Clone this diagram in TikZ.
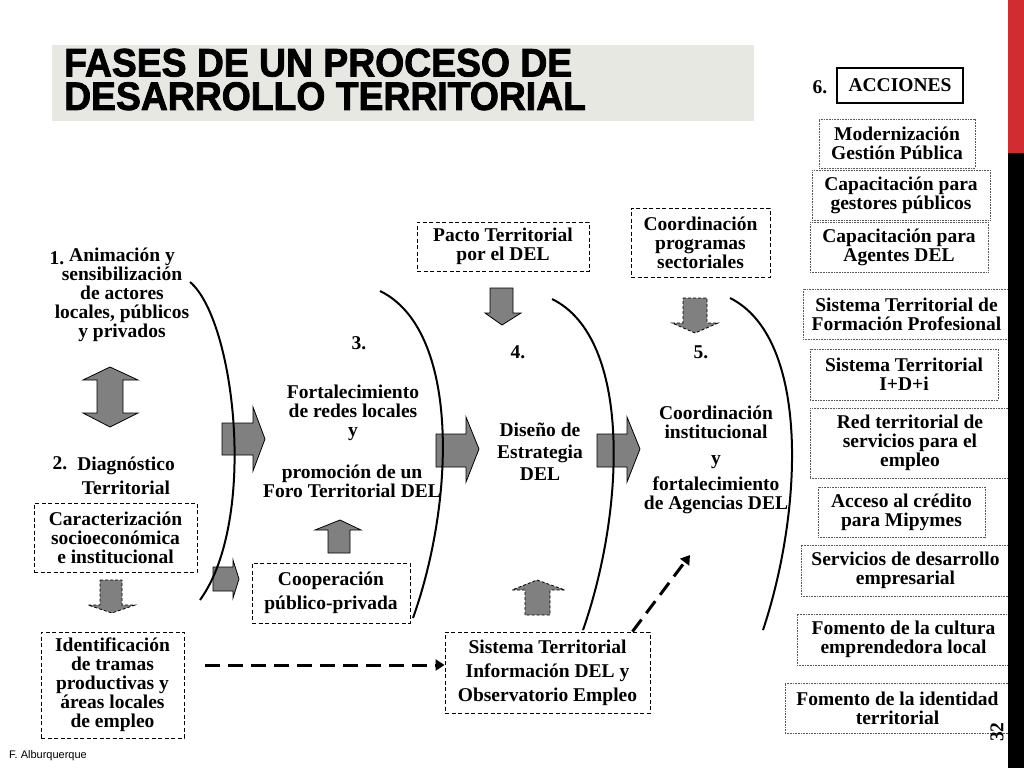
\documentclass[tikz,border=0pt]{standalone}
\usepackage{fontspec}
\setmainfont{Liberation Serif}
\setsansfont{Liberation Sans}
\newfontfamily\titlefont{Liberation Sans}[BoldFeatures={FakeBold=2,FakeStretch=0.94}]
\usepackage{tikz}
\usetikzlibrary{arrows.meta,positioning,calc}
\definecolor{titlegray}{RGB}{232,232,226}
\definecolor{barred}{RGB}{209,44,48}
\definecolor{arrgray}{RGB}{128,128,128}

\begin{document}
\begin{tikzpicture}[x=1pt,y=-1pt,
  txt/.style={inner sep=0pt,align=center,font=\fontsize{19.5}{19}\selectfont\bfseries},
  wide/.style={font=\fontsize{19.5}{24}\selectfont\bfseries},
  dashbox/.style={txt,draw,line width=0.9pt,dash pattern=on 4pt off 2.5pt},
  dotbox/.style={txt,draw=black!65,line width=0.9pt,dash pattern=on 0.8pt off 0.8pt},
  blockarr/.style={fill=arrgray,draw=black,line width=0.8pt,line join=miter},
  dasharr/.style={blockarr,dash pattern=on 3pt off 2pt},
  phase/.style={line width=2pt},
  conn/.style={line width=3pt,dash pattern=on 15pt off 8pt,-{Triangle[length=9pt,width=11pt]}}]
  \useasboundingbox (0,0) rectangle (1024,768);
  \fill[titlegray] (52,45) rectangle (754,121);
  \node[anchor=north west,inner sep=0pt,font=\titlefont\bfseries\fontsize{39.7}{33}\selectfont] (title1) at (64,48.5) {FASES DE UN PROCESO DE};
  \node[anchor=north west,inner sep=0pt,font=\titlefont\bfseries\fontsize{39.7}{33}\selectfont] (title2) at (64,82) {DESARROLLO TERRITORIAL};

  % block arrows
  \draw[blockarr] (110,367) -- (138,380) -- (123,380) -- (123,413) -- (138,413) -- (110,427) -- (83,413) -- (97,413) -- (97,380) -- (83,380) -- cycle;
  \draw[dasharr] (100,580) -- (122,580) -- (122,605) -- (135,605) -- (112,613) -- (88,605) -- (100,605) -- cycle;
  \draw[blockarr] (222,423) -- (253,423) -- (253,407) -- (265,439) -- (253,471) -- (253,455) -- (222,455) -- cycle;
  \draw[blockarr] (436,434) -- (466,434) -- (466,417) -- (479,449) -- (466,482) -- (466,467) -- (436,467) -- cycle;
  \draw[blockarr] (597,434) -- (627,434) -- (627,417) -- (640,449) -- (627,482) -- (627,467) -- (597,467) -- cycle;
  \draw[blockarr] (213,567) -- (233,567) -- (233,560) -- (239,579) -- (233,598) -- (233,591) -- (213,591) -- cycle;
  \draw[blockarr] (328,553) -- (328,530) -- (315,530) -- (340,520) -- (361,530) -- (350,530) -- (350,553) -- cycle;
  \draw[blockarr] (490,288) -- (513,288) -- (513,313) -- (521,313) -- (502,325) -- (485,313) -- (490,313) -- cycle;
  \draw[dasharr] (683,298) -- (707,298) -- (707,323) -- (718,323) -- (695,333) -- (672,323) -- (683,323) -- cycle;
  \draw[dasharr] (525,615) -- (525,590) -- (512,590) -- (537,580) -- (565,590) -- (550,590) -- (550,615) -- cycle;

  % phases
  \draw[phase] (190,282) .. controls (235,320) and (258,520) .. (200,600);
  \draw[phase] (380,291) .. controls (460,330) and (455,500) .. (413,618);
  \draw[phase] (552,299) .. controls (632,338) and (625,510) .. (583,630);
  \draw[phase] (730,298) .. controls (810,338) and (803,510) .. (763,630);

  \node[txt] (n1) at (57,258) {1.};
  \node[txt] (anim) at (122,295) {Animación y\\sensibilización\\de actores\\locales, públicos\\y privados};
  \node[txt] (n2) at (60,463) {2.};
  \node[txt,wide] (diag) at (126,476) {Diagnóstico\\Territorial};
  \node[dashbox,minimum width=163pt,minimum height=69pt] (caract) at (115.5,537.5) {Caracterización\\socioeconómica\\e institucional};
  \node[dashbox,minimum width=143pt,minimum height=106pt] (ident) at (112.5,685) {Identificación\\de tramas\\productivas y\\áreas locales\\de empleo};

  \node[txt] (n3) at (359,343) {3.};
  \node[txt] (fort) at (353,413) {Fortalecimiento\\de redes locales\\y};
  \node[txt] (promo) at (352,481) {promoción de un\\Foro Territorial DEL};
  \node[dashbox,wide,minimum width=158pt,minimum height=60pt] (coop) at (331,593) {Cooperación\\público-privada};

  \node[dashbox,minimum width=172pt,minimum height=49pt] (pacto) at (503,246.5) {Pacto Territorial\\por el DEL};
  \node[txt] (n4) at (518,352) {4.};
  \node[txt,font=\fontsize{19.5}{22}\selectfont\bfseries] (diseno) at (540,452) {Diseño de\\Estrategia\\DEL};
  \node[dashbox,wide,minimum width=205pt,minimum height=81pt] (sistema) at (547.5,672.5) {Sistema Territorial\\Información DEL y\\Observatorio Empleo};

  \node[dashbox,minimum width=139pt,minimum height=69pt] (coordprog) at (700.5,242.5) {Coordinación\\programas\\sectoriales};
  \node[txt] (n5) at (701,352) {5.};
  \node[txt] (coordinst) at (716,422) {Coordinación\\institucional};
  \node[txt] (yand) at (716,462) {y};
  \node[txt] (fortag) at (716,495) {fortalecimiento\\de Agencias DEL};

  \coordinate (lvl) at (0,665);
  \coordinate (c5) at (690,555);
  \draw[conn,shorten <=21pt] (ident.east |- lvl) -- (sistema.west |- lvl);
  \draw[conn] ([xshift=-18pt]sistema.north east) -- (c5);

  \node[txt] (n6) at (820,87) {6.};
  \node[txt,draw,line width=1.2pt,minimum width=126pt,minimum height=35pt] (acciones) at (900,85.5) {ACCIONES};
  \node[dotbox,minimum width=156pt,minimum height=49pt] (moder) at (897,143.5) {Modernización\\Gestión Pública};
  \node[dotbox,minimum width=178pt,minimum height=50pt] (capgest) at (901,195) {Capacitación para\\gestores públicos};
  \node[dotbox,minimum width=178pt,minimum height=50pt] (capag) at (899,247) {Capacitación para\\Agentes DEL};
  \node[dotbox,minimum width=207pt,minimum height=50pt] (formprof) at (906.5,314) {Sistema Territorial de\\Formación Profesional};
  \node[dotbox,minimum width=188pt,minimum height=51pt] (idi) at (904,374.5) {Sistema Territorial\\I+D+i};
  \node[dotbox,minimum width=200pt,minimum height=70pt] (redemp) at (910,443) {Red territorial de\\servicios para el\\empleo};
  \node[dotbox,minimum width=167pt,minimum height=50pt] (credito) at (901.5,512) {Acceso al crédito\\para Mipymes};
  \node[dotbox,minimum width=209pt,minimum height=51pt] (servemp) at (905.5,570.5) {Servicios de desarrollo\\empresarial};
  \node[dotbox,minimum width=213pt,minimum height=51pt] (cultura) at (903.5,639.5) {Fomento de la cultura\\emprendedora local};
  \node[dotbox,minimum width=225pt,minimum height=50pt] (identidad) at (897.5,708) {Fomento de la identidad\\territorial};

  \node[txt,rotate=90] (pagenum) at (997,732) {32};
  \node[anchor=west,inner sep=0pt,font=\sffamily\fontsize{11}{12}\selectfont] (author) at (9,756) {F. Alburquerque};

  \fill[barred] (1008,0) rectangle (1024,153);
  \fill[black] (1008,153) rectangle (1024,768);
\end{tikzpicture}
\end{document}
